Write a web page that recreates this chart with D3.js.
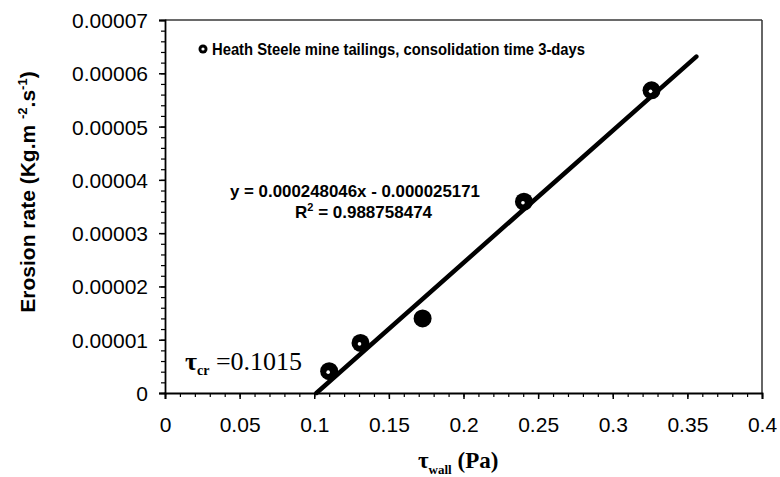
<!DOCTYPE html>
<html>
<head>
<meta charset="utf-8">
<script src="https://cdn.jsdelivr.net/npm/d3@7"></script>
<style>
  html, body { margin: 0; padding: 0; background: #fff; }
  svg { display: block; }
</style>
</head>
<body>
<svg id="chart" width="780" height="477"></svg>
<script>
// Erosion rate vs. wall shear stress, Heath Steele tailings (3-day consolidation)
const shearStress = [0.110, 0.131, 0.1726, 0.2405, 0.326];          // Pa
const erosionRate = [0.0000041, 0.0000094, 0.0000140, 0.0000359, 0.0000568]; // kg/m2/s
const openMarker  = [true, true, false, true, true];

const fitSlope = 0.000248046;
const fitIntercept = -0.000025171;
const fitR2 = "0.988758474";
const fitExtent = [0.1015, 0.356];
const tauCritical = "0.1015";

const xTicks = [0, 0.05, 0.1, 0.15, 0.2, 0.25, 0.3, 0.35, 0.4];
const xTickLabels = ["0", "0.05", "0.1", "0.15", "0.2", "0.25", "0.3", "0.35", "0.4"];
const yTicks = [0, 0.00001, 0.00002, 0.00003, 0.00004, 0.00005, 0.00006, 0.00007];
const yTickLabels = ["0", "0.00001", "0.00002", "0.00003", "0.00004", "0.00005", "0.00006", "0.00007"];
const legendLabel = "Heath Steele mine tailings, consolidation time 3-days";

const svg = d3.select("#chart");
const W = 780, H = 477;
const m = { left: 165, right: 18, top: 20, bottom: 84 };
const x = d3.scaleLinear().domain([0, 0.4]).range([m.left, W - m.right]);
const y = d3.scaleLinear().domain([0, 0.00007]).range([H - m.bottom, m.top]);

const sans = "Arial, 'Liberation Sans', Helvetica, sans-serif";
const serif = "'Times New Roman', 'Liberation Serif', serif";

// frame: top and right edges
svg.append("line").attr("x1", x(0)).attr("x2", x(0.4)).attr("y1", y(0.00007)).attr("y2", y(0.00007))
  .attr("stroke", "#6a6a6a").attr("stroke-width", 2);
svg.append("line").attr("x1", x(0.4)).attr("x2", x(0.4)).attr("y1", y(0.00007)).attr("y2", y(0))
  .attr("stroke", "#333").attr("stroke-width", 1.5);

// minor ticks
const xMinor = d3.range(0, 0.4001, 0.01);
const yMinor = d3.range(0, 0.0000701, 0.000002);
svg.append("g").attr("transform", `translate(0,${y(0)})`)
  .call(d3.axisBottom(x).tickValues(xMinor).tickSize(4).tickFormat(""))
  .call(g => g.select(".domain").remove())
  .selectAll("line").attr("stroke", "#000").attr("stroke-width", 1.2);
svg.append("g").attr("transform", `translate(${x(0)},0)`)
  .call(d3.axisLeft(y).tickValues(yMinor).tickSize(4).tickFormat(""))
  .call(g => g.select(".domain").remove())
  .selectAll("line").attr("stroke", "#000").attr("stroke-width", 1.2);

// major axes
const xAxis = svg.append("g").attr("transform", `translate(0,${y(0)})`)
  .call(d3.axisBottom(x).tickValues(xTicks).tickSize(6).tickPadding(18)
    .tickFormat((d, i) => xTickLabels[i]));
const yAxis = svg.append("g").attr("transform", `translate(${x(0)},0)`)
  .call(d3.axisLeft(y).tickValues(yTicks).tickSize(6).tickPadding(11)
    .tickFormat((d, i) => yTickLabels[i]));
[xAxis, yAxis].forEach(g => {
  g.select(".domain").attr("stroke", "#000").attr("stroke-width", 1.8);
  g.selectAll(".tick line").attr("stroke", "#000").attr("stroke-width", 1.5);
  g.selectAll("text").attr("font-family", sans).attr("font-size", 21).attr("fill", "#000");
});
xAxis.selectAll("text").attr("dy", "0.71em");
yAxis.selectAll("text").attr("dy", "0.36em");

// linear fit
svg.append("line")
  .attr("x1", x(fitExtent[0])).attr("y1", y(fitSlope * fitExtent[0] + fitIntercept))
  .attr("x2", x(fitExtent[1])).attr("y2", y(fitSlope * fitExtent[1] + fitIntercept))
  .attr("stroke", "#000").attr("stroke-width", 4.5).attr("stroke-linecap", "round");

// data points
const pts = shearStress.map((s, i) => ({ s, e: erosionRate[i], open: openMarker[i] }));
svg.append("g").selectAll("circle").data(pts).join("circle")
  .attr("cx", d => x(d.s)).attr("cy", d => y(d.e)).attr("r", 9).attr("fill", "#000");
svg.append("g").selectAll("circle").data(pts.filter(d => d.open)).join("circle")
  .attr("cx", d => x(d.s) - 1).attr("cy", d => y(d.e) + 1).attr("r", 1.8).attr("fill", "#fff");

// legend
svg.append("circle").attr("cx", 203).attr("cy", 49).attr("r", 4.5).attr("fill", "#000");
svg.append("circle").attr("cx", 203).attr("cy", 49).attr("r", 1.6).attr("fill", "#fff");
svg.append("text").attr("x", 212).attr("y", 55)
  .attr("font-family", sans).attr("font-weight", "bold").attr("font-size", 16)
  .attr("textLength", 373).attr("lengthAdjust", "spacingAndGlyphs")
  .text(legendLabel);

// fit equation
svg.append("text").attr("x", 230).attr("y", 197)
  .attr("font-family", sans).attr("font-weight", "bold").attr("font-size", 17)
  .attr("textLength", 250).attr("lengthAdjust", "spacingAndGlyphs")
  .text(`y = ${fitSlope.toFixed(9)}x - ${Math.abs(fitIntercept).toFixed(9)}`);
const r2 = svg.append("text").attr("x", 295).attr("y", 218)
  .attr("font-family", sans).attr("font-weight", "bold").attr("font-size", 17);
r2.append("tspan").text("R");
r2.append("tspan").attr("dy", -7).attr("font-size", 11).text("2");
r2.append("tspan").attr("dy", 7).text(` = ${fitR2}`);

// critical shear stress
const tc = svg.append("text").attr("x", 185).attr("y", 370)
  .attr("font-family", serif).attr("font-size", 26).attr("fill", "#000");
tc.append("tspan").attr("font-weight", "bold").text("τ");
tc.append("tspan").attr("dy", 5).attr("font-size", 14).attr("font-weight", "bold").text("cr");
tc.append("tspan").attr("dy", -5).text(` =${tauCritical}`);

// axis titles
const xt = svg.append("text").attr("x", 418).attr("y", 468)
  .attr("font-family", serif).attr("font-weight", "bold").attr("font-size", 23);
xt.append("tspan").text("τ");
xt.append("tspan").attr("dy", 6).attr("font-size", 13).text("wall");
xt.append("tspan").attr("dy", -6).text(" (Pa)");

const yt = svg.append("text")
  .attr("transform", "translate(35,192) rotate(-90)")
  .attr("text-anchor", "middle")
  .attr("font-family", sans).attr("font-weight", "bold").attr("font-size", 21);
yt.append("tspan").text("Erosion rate (Kg.m ");
yt.append("tspan").attr("dy", -8).attr("font-size", 13).text("-2");
yt.append("tspan").attr("dy", 8).text(".s");
yt.append("tspan").attr("dy", -8).attr("font-size", 13).text("-1");
yt.append("tspan").attr("dy", 8).text(")");
</script>
</body>
</html>
